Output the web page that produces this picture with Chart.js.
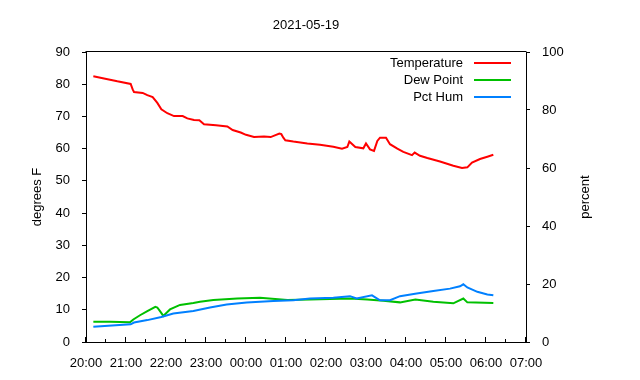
<!DOCTYPE html>
<html>
<head>
<meta charset="utf-8">
<style>
  html, body { margin: 0; padding: 0; background: #fff; }
  #wrap { width: 640px; height: 380px; position: relative; }
</style>
<script src="https://cdn.jsdelivr.net/npm/chart.js@4/dist/chart.umd.min.js"></script>
</head>
<body>
<div id="wrap"><canvas id="c" width="640" height="380"></canvas></div>
<script>
const chartTitle = '2021-05-19';
const xTickLabels = ['20:00','21:00','22:00','23:00','00:00','01:00','02:00','03:00','04:00','05:00','06:00','07:00'];
const seriesNames = ['Temperature', 'Dew Point', 'Pct Hum'];

const tempTimes = ['20:11','20:27','20:47','21:07','21:10','21:12','21:25','21:32','21:40','21:47','21:53','22:02','22:12','22:25','22:32','22:42','22:50','22:57','23:15','23:32','23:40','23:52','00:00','00:12','00:27','00:37','00:50','00:53','00:56','00:59','01:11','01:32','01:51','02:11','02:24','02:32','02:35','02:44','02:56','03:00','03:06','03:12','03:17','03:21','03:30','03:36','03:47','03:56','04:09','04:13','04:21','04:32','04:51','05:11','05:24','05:32','05:39','05:51','06:02','06:11'];
const tempValues = [82.5,81.8,80.9,80.1,78.4,77.6,77.3,76.6,76.0,74.2,72.2,71.0,70.1,70.1,69.4,68.9,68.8,67.6,67.3,66.9,65.8,65.0,64.3,63.6,63.8,63.6,64.7,64.5,63.4,62.6,62.2,61.6,61.2,60.6,60.0,60.5,62.2,60.5,60.1,61.6,59.8,59.3,62.4,63.4,63.4,61.4,60.0,59.0,58.0,58.8,57.8,57.1,56.0,54.7,54.0,54.2,55.7,56.8,57.5,58.1];

const dewTimes = ['20:11','20:36','21:06','21:11','21:21','21:32','21:44','21:47','21:51','21:56','22:06','22:21','22:41','22:51','23:11','23:47','00:21','01:02','01:36','02:36','03:02','03:26','03:51','04:14','04:41','05:11','05:26','05:32','06:11'];
const dewValues = [6.3,6.3,6.1,7.0,8.3,9.6,10.9,10.7,9.6,8.1,10.1,11.5,12.1,12.5,13.0,13.5,13.7,13.0,13.2,13.5,13.2,12.8,12.3,13.2,12.5,12.0,13.5,12.3,12.1];

const humTimes = ['20:11','21:07','21:12','21:32','21:53','22:11','22:41','23:06','23:31','00:01','00:41','01:11','01:36','02:11','02:36','02:46','03:09','03:21','03:36','03:51','04:16','04:41','05:06','05:21','05:26','05:32','05:47','06:02','06:11'];
const humValues = [5.25,6.1,6.7,7.55,8.6,9.8,10.7,11.9,12.9,13.6,14.1,14.4,15.0,15.3,15.8,15.0,16.1,14.4,14.4,15.8,16.7,17.6,18.4,19.2,19.9,18.8,17.3,16.4,16.1];

function hoursSince20(t) {
  const [h, m] = t.split(':').map(Number);
  const hh = h >= 20 ? h - 20 : h + 4;
  return hh + m / 60;
}
function toPoints(times, values) {
  return times.map((t, i) => ({ x: hoursSince20(t), y: values[i] }));
}

const FONT = "'Liberation Sans', Arial, sans-serif";
const colors = ['#ff0000', '#00c000', '#0080ff'];

const gnuplotDecor = {
  id: 'gnuplotDecor',
  afterDraw(chart) {
    const ctx = chart.ctx;
    const a = chart.chartArea;
    const xs = chart.scales.x;
    ctx.save();
    ctx.strokeStyle = '#000';
    ctx.lineWidth = 1;
    ctx.beginPath();
    ctx.moveTo(a.left - 0.5, a.top - 0.5);
    ctx.lineTo(a.right + 0.5, a.top - 0.5);
    ctx.stroke();
    ctx.beginPath();
    for (let v = xs.min; v <= xs.max + 1e-9; v += 0.5) {
      const px = Math.round(xs.getPixelForValue(v)) - 0.5;
      const major = Math.abs(v - Math.round(v)) < 1e-9;
      const len = major ? 5 : 3;
      ctx.moveTo(px, a.bottom);
      ctx.lineTo(px, a.bottom - len);
    }
    ctx.stroke();
    ctx.fillStyle = '#000';
    ctx.font = '13px ' + FONT;
    ctx.textAlign = 'center';
    ctx.textBaseline = 'middle';
    ctx.fillText(chartTitle, (a.left + a.right) / 2, 25);
    ctx.save();
    ctx.translate(37, (a.top + a.bottom) / 2);
    ctx.rotate(-Math.PI / 2);
    ctx.fillText('degrees F', 0, 0);
    ctx.restore();
    ctx.save();
    ctx.translate(585, (a.top + a.bottom) / 2);
    ctx.rotate(-Math.PI / 2);
    ctx.fillText('percent', 0, 0);
    ctx.restore();
    const rows = [63, 80, 97];
    chart.data.datasets.forEach((ds, i) => {
      ctx.fillStyle = '#000';
      ctx.textAlign = 'right';
      ctx.fillText(ds.label, 463, rows[i]);
      ctx.strokeStyle = ds.borderColor;
      ctx.lineWidth = 2;
      ctx.beginPath();
      ctx.moveTo(474, rows[i]);
      ctx.lineTo(511, rows[i]);
      ctx.stroke();
    });
    ctx.restore();
  }
};

new Chart(document.getElementById('c'), {
  type: 'line',
  data: {
    datasets: [
      { label: seriesNames[0], data: toPoints(tempTimes, tempValues), borderColor: colors[0], yAxisID: 'y', order: 3 },
      { label: seriesNames[1], data: toPoints(dewTimes, dewValues), borderColor: colors[1], yAxisID: 'y', order: 2 },
      { label: seriesNames[2], data: toPoints(humTimes, humValues), borderColor: colors[2], yAxisID: 'y2', order: 1 }
    ]
  },
  options: {
    responsive: false,
    animation: false,
    events: [],
    layout: { padding: { top: 52, left: 0, right: 0, bottom: 0 } },
    elements: {
      line: { borderWidth: 2, tension: 0, fill: false },
      point: { radius: 0 }
    },
    plugins: {
      legend: { display: false },
      title: { display: false },
      tooltip: { enabled: false }
    },
    scales: {
      x: {
        type: 'linear',
        min: 0, max: 11,
        grid: { display: false },
        border: { display: true, color: '#000', width: 1 },
        ticks: {
          stepSize: 1,
          color: '#000',
          font: { family: FONT, size: 13 },
          padding: 6,
          maxRotation: 0,
          autoSkip: false,
          callback: (v, i) => xTickLabels[i]
        },
        afterFit(s) { s.height = 38; }
      },
      y: {
        position: 'left',
        min: 0, max: 90,
        grid: { drawOnChartArea: false, drawTicks: true, tickLength: 4, color: '#000' },
        border: { display: true, color: '#000', width: 1 },
        ticks: { stepSize: 10, color: '#000', font: { family: FONT, size: 13 }, padding: 12 },
        afterFit(s) { s.width = 86; }
      },
      y2: {
        position: 'right',
        min: 0, max: 100,
        grid: { drawOnChartArea: false, drawTicks: true, tickLength: 4, color: '#000' },
        border: { display: true, color: '#000', width: 1 },
        ticks: { stepSize: 20, color: '#000', font: { family: FONT, size: 13 }, padding: 12 },
        afterFit(s) { s.width = 114; }
      }
    }
  },
  plugins: [gnuplotDecor]
});
</script>
</body>
</html>
